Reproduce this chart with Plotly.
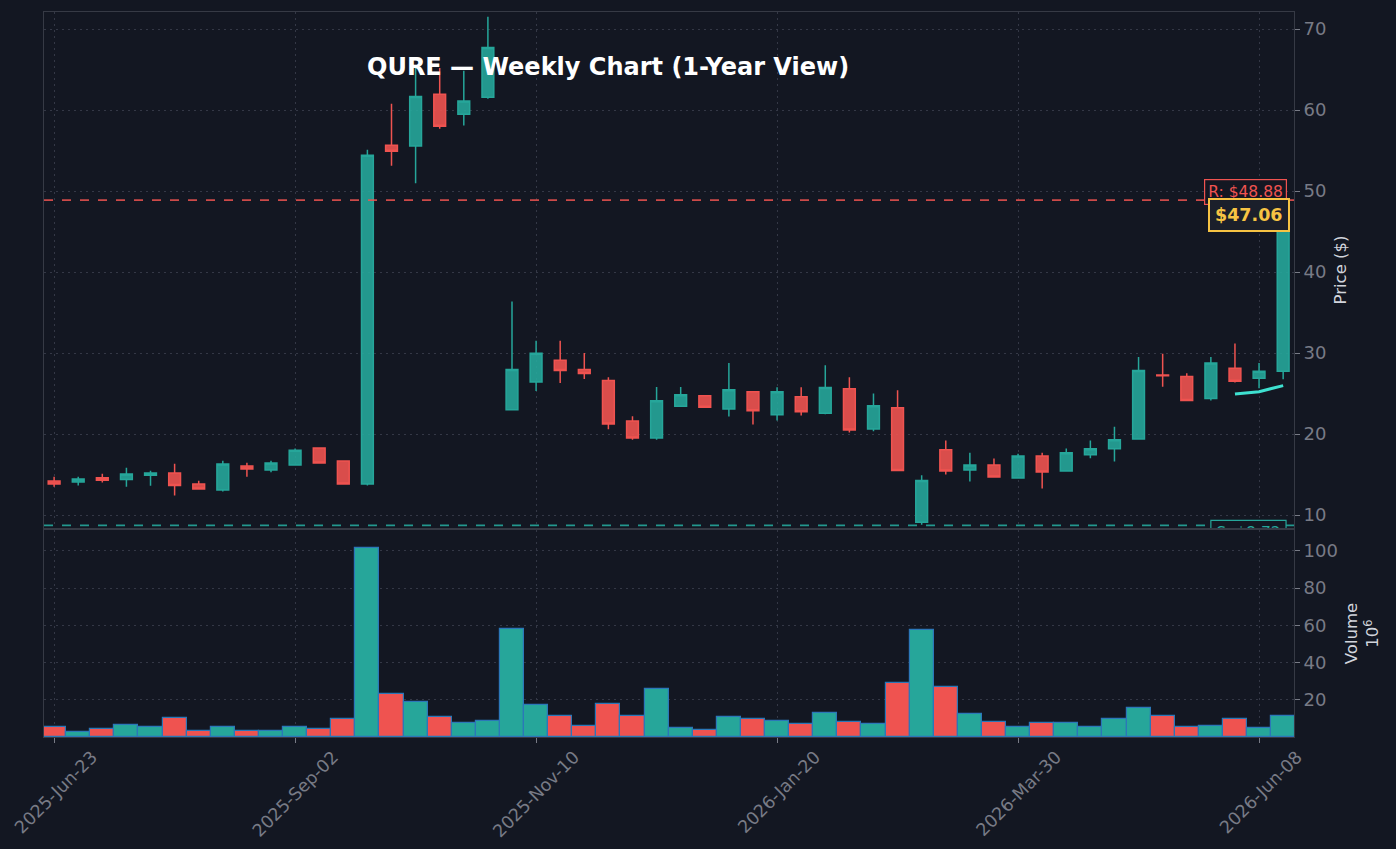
import plotly.graph_objects as go

# ---------------- data ----------------
dates = [
    "2025-06-23", "2025-06-30", "2025-07-07", "2025-07-14", "2025-07-21", "2025-07-28",
    "2025-08-04", "2025-08-11", "2025-08-18", "2025-08-25", "2025-09-02", "2025-09-08",
    "2025-09-15", "2025-09-22", "2025-09-29", "2025-10-06", "2025-10-13", "2025-10-20",
    "2025-10-27", "2025-11-03", "2025-11-10", "2025-11-17", "2025-11-24", "2025-12-01",
    "2025-12-08", "2025-12-15", "2025-12-22", "2025-12-29", "2026-01-05", "2026-01-12",
    "2026-01-20", "2026-01-26", "2026-02-02", "2026-02-09", "2026-02-17", "2026-02-23",
    "2026-03-02", "2026-03-09", "2026-03-16", "2026-03-23", "2026-03-30", "2026-04-06",
    "2026-04-13", "2026-04-20", "2026-04-27", "2026-05-04", "2026-05-11", "2026-05-18",
    "2026-05-26", "2026-06-01", "2026-06-08", "2026-06-15",
]
opens = [14.2, 14.07, 14.6, 14.4, 14.9, 15.19, 13.83, 13.09, 16.05, 15.56, 16.17, 18.27, 16.67,
         13.83, 55.65, 55.57, 61.96, 59.48, 61.59, 22.99, 26.43, 29.1, 27.97, 26.6, 21.6, 19.5,
         23.44, 24.73, 23.1, 25.23, 22.37, 24.6, 22.57, 25.6, 20.62, 23.24, 9.1, 18.05, 15.56,
         16.18, 14.57, 17.3, 15.43, 17.43, 18.18, 19.4, 27.3, 27.1, 24.4, 28.13, 26.9, 27.76]
highs = [14.73, 14.73, 15.1, 15.84, 15.47, 16.34, 14.24, 16.7, 16.46, 16.7, 18.2, 18.3, 16.7,
         55.1, 60.76, 65.18, 65.18, 64.85, 71.5, 36.35, 31.5, 31.5, 30.0, 27.0, 22.2, 25.8,
         25.8, 24.75, 28.76, 25.25, 25.77, 25.77, 28.5, 27.0, 25.0, 25.4, 14.9, 19.2, 17.7,
         16.97, 17.55, 17.68, 18.2, 19.2, 20.9, 29.5, 29.9, 27.5, 29.5, 31.16, 28.76, 47.5]
lows = [13.5, 13.66, 14.03, 13.5, 13.62, 12.4, 13.15, 12.9, 14.73, 15.27, 16.1, 16.4, 13.8,
        13.66, 53.13, 50.95, 57.7, 58.08, 61.38, 22.9, 25.3, 26.3, 26.8, 20.6, 19.3, 19.3,
        23.4, 23.2, 22.16, 21.16, 21.66, 22.3, 22.45, 20.2, 20.33, 15.5, 8.8, 15.0, 14.15,
        14.65, 14.5, 13.28, 15.4, 17.0, 16.6, 19.35, 25.85, 24.1, 24.15, 26.35, 25.64, 26.76]
closes = [13.83, 14.44, 14.28, 15.06, 15.19, 13.66, 13.2, 16.3, 15.68, 16.42, 18.0, 16.42, 13.83,
          54.4, 54.9, 61.67, 58.0, 61.1, 67.73, 27.97, 29.96, 27.84, 27.47, 21.24, 19.5, 24.1,
          24.85, 23.32, 25.48, 22.86, 25.23, 22.74, 25.73, 20.5, 23.49, 15.5, 14.25, 15.43, 16.18,
          14.7, 17.3, 15.3, 17.68, 18.18, 19.3, 27.84, 27.2, 24.15, 28.76, 26.5, 27.76, 47.06]
volumes_m = [5.3, 2.8, 4.4, 6.6, 5.3, 10.3, 3.2, 5.3, 3.2, 3.3, 5.3, 4.4, 9.8,
             101.6, 23.0, 18.7, 10.9, 7.7, 8.7, 58.1, 17.1, 11.4, 6.0, 17.7, 11.4, 25.9,
             5.0, 3.9, 10.9, 9.8, 8.7, 7.1, 13.0, 8.2, 7.1, 29.1, 57.6, 26.9, 12.5,
             8.2, 5.5, 7.6, 7.6, 5.5, 9.8, 15.7, 11.4, 5.5, 6.0, 9.8, 5.0, 11.4]
ma_values = [None] * 49 + [24.94, 25.23, 25.98]

tick_dates = [dates[0], dates[10], dates[20], dates[30], dates[40], dates[50]]
tick_labels = ["2025-Jun-23", "2025-Sep-02", "2025-Nov-10", "2026-Jan-20", "2026-Mar-30", "2026-Jun-08"]
price_ticks = [10, 20, 30, 40, 50, 60, 70]
volume_ticks = [20, 40, 60, 80, 100]

resistance = 48.88
support = 8.72
last_price = 47.06
title_text = "QURE — Weekly Chart (1-Year View)"

# ---------------- style ----------------
BG = "#131722"
UP = "#26a69a"
DOWN = "#ef5350"
GRID = "#343846"
AXIS = "#363a45"
TICK = "#787b86"
FONT = "DejaVu Sans"
GRIDDASH = "2px,4px"

vol_colors = [UP if c >= o else DOWN for o, c in zip(opens, closes)]

fig = go.Figure()

fig.add_trace(go.Candlestick(
    x=dates, open=opens, high=highs, low=lows, close=closes,
    xaxis="x", yaxis="y",
    increasing=dict(line=dict(color=UP, width=1.5), fillcolor="rgba(38,166,154,0.9)"),
    decreasing=dict(line=dict(color=DOWN, width=1.5), fillcolor="rgba(239,83,80,0.9)"),
    whiskerwidth=0, showlegend=False, hoverinfo="skip",
))

fig.add_trace(go.Scatter(
    x=dates, y=ma_values, mode="lines", xaxis="x", yaxis="y",
    line=dict(color="#3ee0d0", width=3), showlegend=False, hoverinfo="skip",
))

fig.add_trace(go.Bar(
    x=dates, y=volumes_m, xaxis="x2", yaxis="y2",
    marker=dict(color=vol_colors, line=dict(color="#2b77b8", width=1.2)),
    showlegend=False, hoverinfo="skip",
))

n = len(dates)
xrange = [-0.42, n - 0.55]

common_x = dict(
    type="category", range=xrange, tickmode="array", tickvals=tick_dates,
    showgrid=True, gridcolor=GRID, griddash=GRIDDASH, gridwidth=1,
    showline=True, linecolor=AXIS, linewidth=1, mirror=True,
    zeroline=False, rangeslider=dict(visible=False), fixedrange=True,
    automargin=False,
)

fig.update_layout(
    width=1396, height=849,
    paper_bgcolor=BG, plot_bgcolor=BG,
    margin=dict(l=44, r=102, t=12, b=112),
    font=dict(family=FONT, color=TICK, size=16),
    bargap=0, showlegend=False,
    xaxis=dict(**common_x, anchor="y", showticklabels=False, ticks=""),
    xaxis2=dict(**common_x, anchor="y2", matches="x", ticktext=tick_labels,
                showticklabels=True, tickangle=-45, ticks="outside", ticklen=5,
                ticklabelshift=38, ticklabelstandoff=-3,
                tickcolor=TICK, tickfont=dict(size=17.5, color=TICK)),
    yaxis=dict(domain=[0.2883, 1.0], side="right", range=[8.4, 72.1],
               tickvals=price_ticks, ticks="outside", ticklen=5, tickcolor=TICK,
               showgrid=True, gridcolor=GRID, griddash=GRIDDASH,
               showline=True, linecolor=AXIS, mirror=True, zeroline=False,
               tickfont=dict(size=18, color=TICK), automargin=False,
               title=dict(text="Price ($)", font=dict(size=16.5, color="#d1d4dc"), standoff=8)),
    yaxis2=dict(domain=[0.0, 0.2855], side="right", range=[0, 111.2],
                tickvals=volume_ticks, ticks="outside", ticklen=5, tickcolor=TICK,
                showgrid=True, gridcolor=GRID, griddash=GRIDDASH,
                showline=True, linecolor=AXIS, mirror=True, zeroline=False,
                tickfont=dict(size=18, color=TICK), automargin=False,
                title=dict(text="Volume<br>10<sup>6</sup>", font=dict(size=16.5, color="#d1d4dc"), standoff=8)),
)

# resistance / support lines
fig.add_shape(type="line", xref="paper", yref="y", x0=0, x1=1, y0=resistance, y1=resistance,
              line=dict(color="rgba(239,83,80,0.85)", width=1.6, dash="dash"))
fig.add_shape(type="line", xref="paper", yref="y", x0=0, x1=1, y0=support, y1=support,
              line=dict(color="rgba(38,166,154,0.9)", width=1.6, dash="dash"))

# resistance label
fig.add_annotation(xref="paper", yref="y", x=0.9944, y=resistance, xanchor="right", yanchor="bottom",
                   yshift=-5, text=f"R: ${resistance:.2f}", showarrow=False,
                   font=dict(family=FONT, size=15.5, color=DOWN),
                   bgcolor=BG, bordercolor=DOWN, borderwidth=1.2, borderpad=3)

# support label (rect shape clipped by the price panel)
fig.add_shape(type="rect", xref="x", yref="y", x0=n - 4.0, x1=n - 0.88,
              y0=support - 2.2, y1=support + 0.62,
              line=dict(color=UP, width=1.2), fillcolor=BG, layer="above",
              label=dict(text=f"S: ${support:.2f}", font=dict(family=FONT, size=15.5, color=UP)))

# last price label
fig.add_annotation(xref="paper", yref="y", x=0.9968, y=last_price, xanchor="right", yanchor="middle",
                   text=f"<b>${last_price:.2f}</b>", showarrow=False,
                   font=dict(family=FONT, size=17.5, color="#f6c343"),
                   bgcolor="#1b1f2b", bordercolor="#f6c343", borderwidth=2, borderpad=5)

# title
fig.add_annotation(xref="paper", yref="paper", x=0.4512, y=0.924, xanchor="center", yanchor="middle",
                   text=f"<b>{title_text}</b>", showarrow=False,
                   font=dict(family=FONT, size=24, color="#ffffff"))

fig.write_html("out.html")
